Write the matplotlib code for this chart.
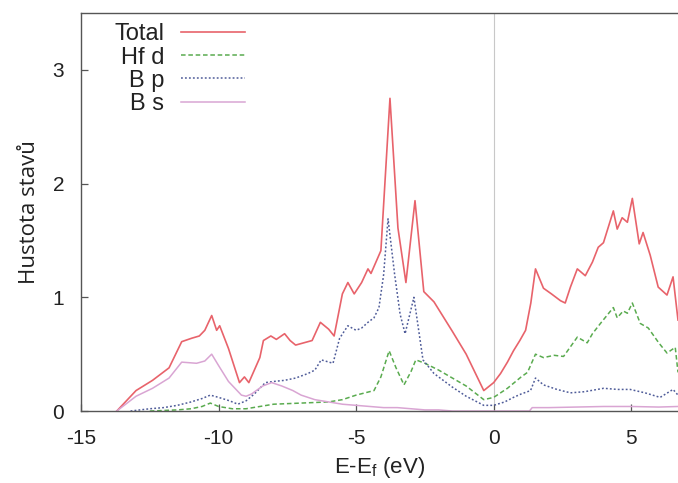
import matplotlib
matplotlib.use("Agg")
import matplotlib.pyplot as plt

plt.rcParams["axes.unicode_minus"] = False

# DOS values (E-Ef in eV, states)
total_e = [-13.7, -13.0, -12.4, -11.8, -11.34, -10.98, -10.7, -10.5, -10.25, -10.07, -9.96,
           -9.64, -9.24, -9.06, -8.9, -8.5, -8.37, -8.1, -7.9, -7.6, -7.4, -7.2, -6.9, -6.6,
           -6.3, -6.0, -5.8, -5.5, -5.3, -5.07, -4.8, -4.57, -4.46, -4.1, -3.77, -3.48, -3.19,
           -2.86, -2.54, -2.17, -1.5, -1.0, -0.6, -0.36, 0.0, 0.25, 0.5, 0.72, 0.95, 1.16,
           1.35, 1.52, 1.81, 2.1, 2.43, 2.6, 2.79, 3.04, 3.33, 3.59, 3.8, 3.99, 4.35, 4.49,
           4.67, 4.86, 5.04, 5.29, 5.43, 5.69, 5.98, 6.3, 6.52, 6.7]
total_dos = [0.0, 0.18, 0.27, 0.38, 0.61, 0.64, 0.66, 0.71, 0.84, 0.71, 0.75,
             0.55, 0.25, 0.3, 0.25, 0.47, 0.62, 0.66, 0.63, 0.68, 0.62, 0.58, 0.6, 0.62,
             0.78, 0.72, 0.66, 1.03, 1.13, 1.03, 1.13, 1.25, 1.21, 1.41, 2.75, 1.61, 1.13,
             1.85, 1.05, 0.96, 0.7, 0.5, 0.3, 0.18, 0.25, 0.33, 0.43, 0.53, 0.62, 0.71,
             0.95, 1.25, 1.08, 1.03, 0.97, 0.95, 1.09, 1.25, 1.19, 1.31, 1.44, 1.48, 1.76, 1.6,
             1.7, 1.66, 1.87, 1.47, 1.57, 1.37, 1.09, 1.02, 1.18, 0.8]

hfd_e = [-12.5, -11.5, -11.0, -10.6, -10.3, -10.0, -9.5, -9.0, -8.5, -8.0, -7.0, -6.0, -5.5,
         -5.0, -4.35, -4.1, -3.8, -3.55, -3.26, -3.0, -2.83, -2.5, -2.0, -1.5, -1.0, -0.36,
         0.0, 0.5, 1.0, 1.23, 1.52, 1.81, 2.2, 2.54, 3.04, 3.4, 3.59, 3.88, 4.35, 4.49, 4.71,
         4.86, 5.04, 5.33, 5.62, 6.0, 6.3, 6.6, 6.7]
hfd_dos = [0.0, 0.01, 0.02, 0.04, 0.07, 0.04, 0.02, 0.02, 0.04, 0.06, 0.07, 0.08, 0.1,
           0.14, 0.18, 0.3, 0.53, 0.38, 0.23, 0.35, 0.45, 0.42, 0.36, 0.29, 0.22, 0.1,
           0.12, 0.2, 0.3, 0.34, 0.5, 0.47, 0.49, 0.48, 0.65, 0.6, 0.68, 0.77, 0.91, 0.82, 0.88,
           0.86, 0.95, 0.77, 0.73, 0.6, 0.51, 0.56, 0.34]

bp_e = [-13.2, -12.5, -12.0, -11.5, -11.0, -10.6, -10.3, -10.0, -9.6, -9.3, -9.0, -8.7, -8.3,
        -8.0, -7.6, -7.2, -6.75, -6.5, -6.27, -5.84, -5.6, -5.3, -5.0, -4.8, -4.57, -4.35,
        -4.17, -4.0, -3.84, -3.6, -3.4, -3.22, -3.05, -2.9, -2.75, -2.57, -2.17, -1.5, -1.0,
        -0.36, 0.0, 0.4, 0.72, 1.0, 1.34, 1.52, 1.81, 2.3, 2.79, 3.3, 4.0, 4.5, 4.96, 5.5,
        6.05, 6.52, 6.7]
bp_dos = [0.0, 0.02, 0.03, 0.05, 0.08, 0.11, 0.14, 0.12, 0.09, 0.06, 0.09, 0.15, 0.25,
          0.26, 0.27, 0.29, 0.33, 0.36, 0.45, 0.42, 0.64, 0.75, 0.71, 0.73, 0.78, 0.82,
          0.91, 1.2, 1.69, 1.2, 0.85, 0.68, 0.85, 1.0, 0.75, 0.45, 0.33, 0.21, 0.13,
          0.05, 0.05, 0.08, 0.12, 0.15, 0.18, 0.29, 0.23, 0.19, 0.16, 0.17, 0.2, 0.19, 0.19, 0.16,
          0.12, 0.19, 0.14]

bs_e = [-13.7, -13.0, -12.4, -11.8, -11.34, -10.8, -10.5, -10.25, -10.0, -9.64, -9.17, -9.0,
        -8.8, -8.4, -8.07, -7.7, -7.3, -7.0, -6.5, -6.0, -5.5, -5.0, -4.5, -4.0, -3.5, -3.0,
        -2.5, -2.0, -1.5, 1.3, 1.4, 2.0, 3.0, 4.0, 5.0, 6.0, 6.7]
bs_dos = [0.0, 0.13, 0.2, 0.29, 0.43, 0.42, 0.44, 0.5, 0.4, 0.26, 0.14, 0.13,
          0.15, 0.22, 0.25, 0.22, 0.18, 0.14, 0.1, 0.08, 0.06, 0.05, 0.04, 0.03, 0.03, 0.02,
          0.01, 0.01, 0.0, 0.0, 0.03, 0.03, 0.035, 0.04, 0.04, 0.035, 0.04]

x_ticks = [-15, -10, -5, 0, 5]
y_ticks = [0, 1, 2, 3]

fig = plt.figure(figsize=(6.78, 4.83), dpi=100)
ax = fig.add_axes([0.1195, 0.149, 0.8805, 0.824])

ax.axvline(0, color="#c8c8c8", lw=0.8, zorder=0)

ax.plot(total_e, total_dos, color="#e8636b", lw=1.2, label="Total")
ax.plot(hfd_e, hfd_dos, color="#5aab4f", lw=1.1, ls=(0, (3, 1.8)), label="Hf d")
ax.plot(bp_e, bp_dos, color="#4f5c99", lw=1.1, ls=(0, (1.2, 1.4)), label="B p")
ax.plot(bs_e, bs_dos, color="#d9a5d3", lw=1.1, label="B s")

ax.set_xlim(-15, 6.7)
ax.set_ylim(0, 3.5)
ax.set_xticks(x_ticks)
ax.set_yticks(y_ticks)

for s in ["left", "bottom", "top"]:
    ax.spines[s].set_color("#555555")
    ax.spines[s].set_linewidth(1.0)
ax.spines["right"].set_visible(False)

ax.tick_params(direction="in", length=5, width=0.9, color="#555555", labelsize=15)
ax.tick_params(axis="x", pad=13)
ax.tick_params(axis="y", pad=12)
for lab in ax.get_xticklabels() + ax.get_yticklabels():
    lab.set_fontfamily("Liberation Sans")
    lab.set_color("#222222")

ax.set_xlabel("E-E$_\\mathregular{f}$ (eV)", fontsize=16, family="Liberation Sans",
              color="#222222", labelpad=5)
ax.set_ylabel("Hustota stavů", fontsize=16, family="Open Sans", color="#222222",
              labelpad=9)

leg = ax.legend(loc="upper right", bbox_to_anchor=(0.279, 0.98), markerfirst=False,
                frameon=False, handlelength=2.7, handletextpad=0.72, labelspacing=0.05,
                borderpad=0.1, borderaxespad=0.0,
                prop={"family": "Liberation Sans", "size": 17})
for t in leg.get_texts():
    t.set_color("#222222")

fig.savefig("out.png", dpi=100)
